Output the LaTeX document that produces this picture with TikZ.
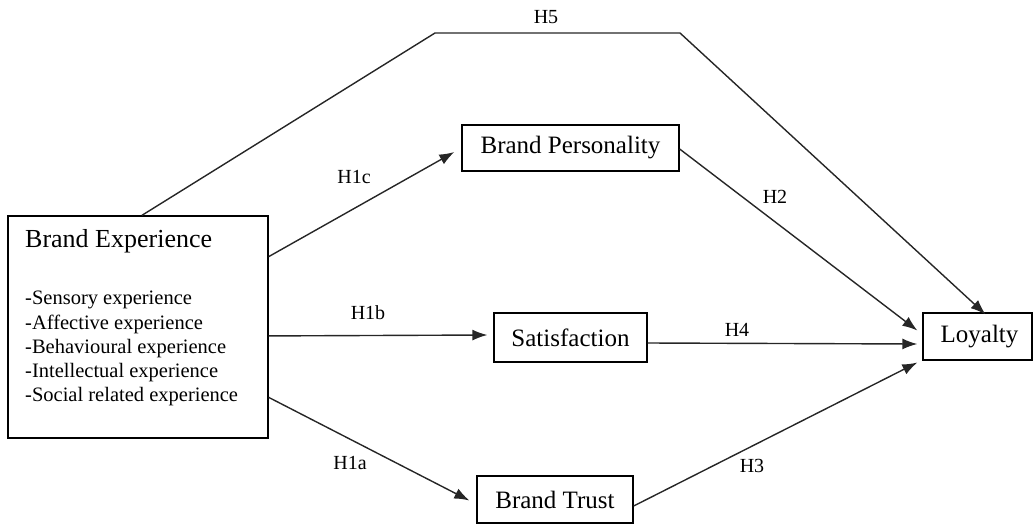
\documentclass[tikz,border=0pt]{standalone}
\usepackage{fontspec}
\setmainfont{Liberation Serif}
\usetikzlibrary{arrows.meta,calc}
\begin{document}
\begin{tikzpicture}[x=1pt,y=-1pt,
  box/.style={draw,line width=1.3pt,inner sep=0pt,font=\fontsize{25}{28}\selectfont},
  conn/.style={line width=1.4pt,draw=black!85},
  arr/.style={conn,-{Latex[length=15pt,width=11pt]}},
  lab/.style={font=\fontsize{20}{22}\selectfont,inner sep=0pt}]
\useasboundingbox (0,0) rectangle (1035,525);
% boxes
\node[box,minimum width=260pt,minimum height=222pt] (be) at (138,327) {};
\node[font=\fontsize{26}{28}\selectfont,anchor=west,inner sep=0pt] (betitle) at (25,241) {Brand Experience};
\node[font=\fontsize{20.5}{24.3}\selectfont,anchor=north west,align=left,inner sep=0pt] (belist) at (25,291)
  {-Sensory experience\\-Affective experience\\-Behavioural experience\\-Intellectual experience\\-Social related experience};
\node[box,minimum width=217pt,minimum height=46pt] (bp) at (570.5,148) {Brand Personality};
\node[box,minimum width=153pt,minimum height=49pt] (sat) at (570.5,337.5) {Satisfaction};
\node[box,minimum width=156pt,minimum height=47pt] (bt) at (555,499.5) {Brand Trust};
\node[box,minimum width=109pt,minimum height=47pt] (loy) at (977.5,336.5) {\hspace*{4pt}Loyalty};
% bend points
\coordinate (h5a) at (435,33);
\coordinate (h5b) at (680,33);
% connectors
\draw[arr] ($(be.north west)!0.515!(be.north east)$) -- (h5a) -- (h5b) -- ([xshift=8pt,yshift=-2pt]loy.north);
\draw[arr] ($(be.north east)!0.185!(be.south east)$) -- ([xshift=-7pt,yshift=-4pt]bp.west);
\draw[arr] ($(be.north east)!0.54!(be.south east)$) -- ([xshift=-6pt,yshift=2.5pt]sat.west);
\draw[arr] ($(be.north east)!0.815!(be.south east)$) -- ([xshift=-7pt,yshift=-1pt]bt.west);
\draw[arr] ([yshift=-1pt]bp.east) -- ([xshift=-5pt,yshift=6pt]loy.west);
\draw[arr] ([yshift=-5.5pt]sat.east) -- ([xshift=-5pt,yshift=-7.5pt]loy.west);
\draw[arr] ([yshift=-6.5pt]bt.east) -- ([xshift=-5pt,yshift=-26pt]loy.west);
% labels
\node[lab] (l5) at (546,17) {H5};
\node[lab] (l1c) at (354,177) {H1c};
\node[lab] (l2) at (775,197) {H2};
\node[lab] (l1b) at (368,313) {H1b};
\node[lab] (l4) at (737,330) {H4};
\node[lab] (l1a) at (350,463) {H1a};
\node[lab] (l3) at (752,466) {H3};
\end{tikzpicture}
\end{document}
